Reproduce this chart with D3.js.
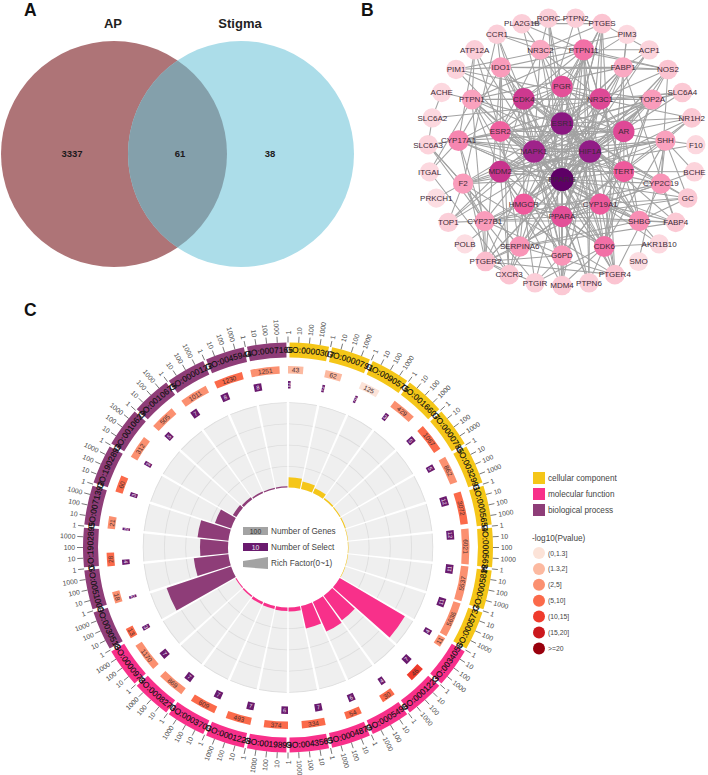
<!DOCTYPE html>
<html><head><meta charset="utf-8">
<script src="https://cdn.jsdelivr.net/npm/d3@7"></script>
<style>
html,body{margin:0;padding:0;background:#fff}
svg{display:block;font-family:"Liberation Sans",Arial,sans-serif}
</style></head><body>
<svg id="c" width="708" height="775"></svg>
<script>
// ---------- Panel A data
const vennSets = ["AP","Stigma"];
const vennCounts = [3337,61,38];

// ---------- Panel B data
const shell1 = ["ESR1","HIF1A","PPARG","MAPK1"];
const shell1Deg = [38,37,44,35];
const shell2 = ["PGR","NR3C1","AR","TERT","CYP19A1","PPARA","HMGCR","MDM2","ESR2","CDK4"];
const shell2Deg = [24,25,25,22,22,24,22,29,21,28];
const shell3 = ["PTPN11","FABP1","TOP2A","SHH","CYP2C19","SHBG","CDK6","G6PD","SERPINA6","CYP27B1","F2","CYP17A1","PTPN1","IDO1","NR3C2"];
const shell3Deg = [19,11,13,12,14,15,19,14,14,13,13,16,12,13,11];
const shell4 = ["RORC","PTPN2","PTGES","PIM3","ACP1","NOS2","SLC6A4","NR1H2","F10","BCHE","GC","FABP4","AKR1B10","SMO","PTGER4","PTPN6","MDM4","PTGIR","CXCR3","PTGER2","POLB","TOP1","PRKCH1","ITGAL","SLC6A3","SLC6A2","ACHE","PIM1","ATP12A","CCR1","PLA2G1B"];
const shell4Deg = [5,5,7,3,4,7,6,6,3,4,6,6,3,2,7,5,6,5,7,8,2,5,2,3,4,3,3,4,5,5,5];
const adjacency = [
 "PPARG ESR1 HIF1A MAPK1 PGR NR3C1 AR TERT CYP19A1 PPARA HMGCR MDM2 ESR2 CDK4 PTPN11 FABP1 TOP2A SHH CYP2C19 SHBG CDK6 G6PD SERPINA6 CYP27B1 F2 CYP17A1 PTPN1 IDO1 NR3C2 NOS2 NR1H2 GC FABP4 PTGES MDM4 PTGER2 PTGER4 CXCR3 ACP1",
 "ESR1 HIF1A MAPK1 PGR NR3C1 AR TERT CYP19A1 PPARA HMGCR MDM2 ESR2 CDK4 FABP1 TOP2A SHH CYP2C19 SHBG CDK6 G6PD SERPINA6 CYP27B1 F2 CYP17A1 PTPN1 IDO1 NR3C2 NR1H2 SLC6A4 SLC6A3 FABP4 GC PTPN11 RORC",
 "HIF1A MAPK1 PGR NR3C1 AR TERT CYP19A1 PPARA HMGCR MDM2 ESR2 CDK4 PTPN11 TOP2A SHH CYP2C19 SHBG CDK6 G6PD SERPINA6 F2 CYP17A1 PTPN1 IDO1 NOS2 PTGES MDM4 PTGER4 PTGER2 PTPN6 SLC6A4",
 "MAPK1 PGR NR3C1 AR TERT PPARA HMGCR MDM2 ESR2 CDK4 PTPN11 FABP1 TOP2A SHH CDK6 G6PD F2 CYP17A1 PTPN1 IDO1 NR3C2 MDM4 PTPN2 PTPN6 PIM1 PTGES TOP1 CCR1",
 "PGR NR3C1 AR ESR2 CDK4 CYP19A1 SHBG CYP17A1 NR3C2 TOP2A CDK6 PTPN11 RORC",
 "NR3C1 AR ESR2 CDK4 TERT NR3C2 SHBG PPARA SLC6A4 PTPN11 FABP1 PTGES NOS2 TOP2A",
 "AR ESR2 MDM2 CDK4 SHBG CYP19A1 CYP17A1 TERT CDK6 TOP2A NR1H2 NOS2 FABP1",
 "TERT CDK4 MDM2 TOP2A CDK6 SHH PTPN11 BCHE SERPINA6 ESR2 G6PD",
 "CYP19A1 ESR2 CYP17A1 CYP2C19 SHBG CYP27B1 HMGCR PTGER2 G6PD FABP4 AKR1B10 GC",
 "PPARA ESR2 FABP1 CYP2C19 HMGCR CDK6 NR1H2 FABP4 SERPINA6 CYP27B1 G6PD PTPN6 GC",
 "HMGCR CDK4 MDM2 CYP27B1 G6PD CDK6 FABP1 ACP1 SERPINA6 PTGIR CXCR3",
 "MDM2 CDK4 CDK6 MDM4 ESR2 TOP2A F2 CXCR3 PTPN1 G6PD TOP1 SHH",
 "ESR2 CDK4 SHBG CYP17A1 PTPN1 SERPINA6 IDO1 NR3C2 ATP12A",
 "CDK4 CDK6 TOP2A PTPN1 IDO1 PTPN11 G6PD PIM1 CCR1 PIM3",
 "PTPN11 PTPN1 PTPN2 PTPN6 ACP1 NOS2 IDO1 PTGER4 MDM4 PLA2G1B",
 "FABP1 NOS2 ACP1 IDO1 FABP4 PTPN1 PIM3",
 "TOP2A SLC6A4 TOP1 CDK6 PTPN1 NOS2 POLB",
 "SHH GC SMO CYP2C19 NR1H2 BCHE F10 CDK6",
 "CYP2C19 CYP17A1 FABP4 GC CYP27B1 BCHE NOS2 PTGER4",
 "SHBG GC FABP4 SERPINA6 CYP17A1 CYP27B1 AKR1B10",
 "CDK6 PTPN6 PTGER4 AKR1B10 PIM3 MDM4 PTGIR",
 "G6PD MDM4 PTGER2 CYP27B1 PTGIR PTPN1",
 "SERPINA6 F2 PTGER2 SLC6A3 PTGER4 CXCR3 FABP4",
 "CYP27B1 F2 CYP17A1 TOP1 PTGER2 SLC6A3 PTGIR",
 "F2 F10 PRKCH1 TOP1 CXCR3 PTGER4 CCR1 SLC6A3",
 "CYP17A1 PTGER2 ITGAL IDO1 ATP12A",
 "PTPN1 ACHE PTGER2 ATP12A ITGAL",
 "IDO1 CXCR3 NOS2 CCR1 PTGER2 PIM1",
 "NR3C2 PLA2G1B RORC CCR1 PTGES",
 "PTGES PTGER4 PTGIR PTGER2 PLA2G1B PTPN2 ACP1",
 "ACHE SLC6A2", "SLC6A2 SLC6A4 SLC6A3", "ITGAL CXCR3", "PTGER2 CXCR3 PTGIR PTGER4",
 "ATP12A PTGER4", "PIM1 PIM3", "NOS2 CCR1", "NR1H2 PIM1", "RORC MDM4", "PLA2G1B PTPN2 PTPN6"
];

// ---------- Panel C data
const goIds = ["GO:0000307","GO:0000791","GO:0090575","GO:0016607","GO:0000785","GO:0032991","GO:0005654","GO:0005634","GO:0005829","GO:0005737",
 "GO:0034056","GO:0001223","GO:0005496","GO:0004879","GO:0043565","GO:0019899","GO:0001228","GO:0003700","GO:0008270","GO:0000978",
 "GO:0030518","GO:0051000","GO:1902895","GO:0071392","GO:1902893","GO:0010629","GO:0010675","GO:0000122","GO:0045944","GO:0007165"];
const goCategory = ["cc","cc","cc","cc","cc","cc","cc","cc","cc","cc","mf","mf","mf","mf","mf","mf","mf","mf","mf","mf","bp","bp","bp","bp","bp","bp","bp","bp","bp","bp"];
const geneCounts = [43,62,125,429,1067,862,3072,6021,5537,5636,11,46,30,54,334,374,493,609,869,1170,13,18,28,21,60,312,505,1011,1230,1251];
const selectCounts = [2,2,2,3,5,5,12,12,11,11,4,7,4,6,7,6,7,7,7,7,3,2,4,2,3,3,5,7,8,8];
const richFactor = [.12,.09,.06,.018,.012,.012,.006,.006,.006,.006,.89,.36,.38,.27,.047,.041,.035,.03,.018,.012,.8,.41,.33,.365,.2,.047,.03,.018,.014,.014];
const pBin = [1,1,0,2,3,2,3,2,2,2,2,4,3,3,3,3,3,3,2,2,3,2,3,2,3,2,2,2,3,2];
const axisTicks = [1,10,100,1000];
const pLabels = ["(0,1.3]","(1.3,2]","(2,5]","(5,10]","(10,15]","(15,20]",">=20"];
const pColors = ["#fce3d8","#fcb9a0","#fb9070","#fb6a4a","#ef3b2c","#cb181d","#99000d"];
const catKeys = ["cc","mf","bp"];
const catNames = ["cellular component","molecular function","biological process"];
const catColors = ["#f5c618","#f8308a","#8e3d78"];

const svg = d3.select("#c");
const panelLabels = [["A",24,16],["B",361,16],["C",24,316]];
svg.selectAll("text.pl").data(panelLabels).join("text").attr("class","pl")
  .attr("x",d=>d[1]).attr("y",d=>d[2]).attr("font-size",17.5).attr("font-weight","bold").attr("fill","#111").text(d=>d[0]);

// ---------- Venn
(function(){
  const g = svg.append("g");
  const R = 113, y = 154, xL = 114, xR = 241;
  const defs = svg.append("defs");
  defs.append("clipPath").attr("id","lc").append("circle").attr("cx",xL).attr("cy",y).attr("r",R);
  g.append("circle").attr("cx",xL).attr("cy",y).attr("r",R).attr("fill","#ae7477");
  g.append("circle").attr("cx",xR).attr("cy",y).attr("r",R).attr("fill","#acdde9");
  g.append("circle").attr("cx",xR).attr("cy",y).attr("r",R).attr("fill","#84a0ab").attr("clip-path","url(#lc)");
  g.selectAll("text.t").data(vennSets).join("text").attr("class","t")
    .attr("x",(d,i)=>[113,240][i]).attr("y",27.5).attr("text-anchor","middle")
    .attr("font-size",13).attr("font-weight","bold").attr("fill","#222").text(d=>d);
  g.selectAll("text.n").data(vennCounts).join("text").attr("class","n")
    .attr("x",(d,i)=>[72,180,270][i]).attr("y",157).attr("text-anchor","middle")
    .attr("font-size",9.5).attr("font-weight","bold").attr("fill","#1d1a1c").text(d=>d);
})();

// ---------- Network
(function(){
  const cx = 562, cy = 151.5;
  const shells = [
    {names:shell1,deg:shell1Deg,r:28,off:0},
    {names:shell2,deg:shell2Deg,r:65,off:0},
    {names:shell3,deg:shell3Deg,r:104,off:12},
    {names:shell4,deg:shell4Deg,r:134,off:-360/31/2}
  ];
  const nodes = [], byName = {};
  shells.forEach(s=>{
    const ang = d3.scaleLinear().domain([0,s.names.length]).range([s.off,s.off+360]);
    s.names.forEach((n,i)=>{
      const a = ang(i)*Math.PI/180;
      const nd = {name:n,deg:s.deg[i],x:cx+s.r*Math.sin(a),y:cy-s.r*Math.cos(a)};
      nodes.push(nd); byName[n]=nd;
    });
  });
  const edges = [];
  adjacency.forEach(row=>{
    const t = row.split(" ");
    t.slice(1).forEach(o=>{ if(byName[t[0]]&&byName[o]) edges.push([byName[t[0]],byName[o]]); });
  });
  const col = d3.scaleLinear().domain([2,7,14,22,29,36,44])
    .range(["#fcdde2","#fbc4d1","#f995b7","#ee5a9c","#c8338d","#98208a","#5e0066"]);
  const rad = d3.scaleLinear().domain([2,44]).range([9.6,11.6]);
  const g = svg.append("g");
  g.selectAll("line").data(edges).join("line")
    .attr("x1",d=>d[0].x).attr("y1",d=>d[0].y).attr("x2",d=>d[1].x).attr("y2",d=>d[1].y)
    .attr("stroke","#a2a2a2").attr("stroke-width",1.05);
  g.selectAll("circle").data(nodes).join("circle")
    .attr("cx",d=>d.x).attr("cy",d=>d.y).attr("r",d=>rad(d.deg)).attr("fill",d=>col(d.deg));
  g.selectAll("text").data(nodes).join("text")
    .attr("x",d=>d.x).attr("y",d=>d.y+2.8).attr("text-anchor","middle")
    .attr("font-size",8).attr("fill","#3d2a36").text(d=>d.name);
})();

// ---------- Circular enrichment plot
(function(){
  const cx = 288, cy = 547.5;
  const g = svg.append("g").attr("transform",`translate(${cx},${cy})`);
  const rad = d=>d*Math.PI/180;
  const sector = d3.scaleBand().domain(goIds).range([0,360]);
  const step = sector.bandwidth();
  const logA = d3.scaleLog().domain([1,10000]).range([0,step]);
  const rich = d3.scaleLinear().domain([0,1]).range([60,145]);
  const catColor = d3.scaleOrdinal(catKeys,catColors);
  const rows = goIds.map((id,i)=>({id,i,a0:sector(id),cat:goCategory[i],gene:geneCounts[i],sel:selectCounts[i],rf:richFactor[i],bin:pBin[i]}));
  const arc = d3.arc();
  const polar = (r,a)=>[r*Math.sin(rad(a)),-r*Math.cos(rad(a))];
  const flip = a=>a>90.01&&a<265;

  // grey panels
  g.selectAll("path.panel").data(rows).join("path").attr("class","panel")
    .attr("d",d=>arc({innerRadius:60,outerRadius:145,startAngle:rad(d.a0+.5),endAngle:rad(d.a0+step-.5)}))
    .attr("fill","#efefef");
  [.25,.5,.75,1].forEach(v=>{
    g.selectAll("path.grid"+v*100).data(rows).join("path")
      .attr("d",d=>arc({innerRadius:rich(v)-.6,outerRadius:rich(v)+.3,startAngle:rad(d.a0+.5),endAngle:rad(d.a0+step-.5)}))
      .attr("fill","#dedede");
  });
  // bars
  g.selectAll("path.bar").data(rows).join("path").attr("class","bar")
    .attr("d",d=>arc({innerRadius:60,outerRadius:rich(d.rf),startAngle:rad(d.a0+.5),endAngle:rad(d.a0+step-.5)}))
    .attr("fill",d=>catColor(d.cat));
  // outer ring
  g.selectAll("path.ring").data(rows).join("path").attr("class","ring")
    .attr("d",d=>arc({innerRadius:190,outerRadius:205,startAngle:rad(d.a0+.45),endAngle:rad(d.a0+step-.45)}))
    .attr("fill",d=>catColor(d.cat));
  // gene ring
  g.selectAll("path.gene").data(rows).join("path").attr("class","gene")
    .attr("d",d=>arc({innerRadius:174,outerRadius:181.5,startAngle:rad(d.a0),endAngle:rad(d.a0+logA(d.gene))}))
    .attr("fill",d=>pColors[d.bin]);
  const midText = (cls,field,r,size,fill)=>{
    g.selectAll("text."+cls).data(rows).join("text").attr("class",cls)
      .attr("text-anchor","middle").attr("dominant-baseline","central")
      .attr("font-size",size).attr("fill",fill)
      .attr("transform",d=>{
        const a = d.a0+logA(d[field])/2, p = polar(r,a);
        return `translate(${p[0]},${p[1]}) rotate(${flip(a)?a+180:a})`;
      }).text(d=>d[field]);
  };
  midText("genet","gene",177.8,6.6,"#4a3030");
  // select ring
  g.selectAll("path.sel").data(rows).join("path").attr("class","sel")
    .attr("d",d=>arc({innerRadius:159,outerRadius:166.5,startAngle:rad(d.a0),endAngle:rad(d.a0+logA(d.sel))}))
    .attr("fill","#6a1a6e");
  midText("selt","sel",162.7,5.6,"#f3e6f3");
  // ticks
  const ticks = rows.flatMap(d=>axisTicks.map(v=>({v,a:d.a0+logA(v)})));
  g.selectAll("line.tick").data(ticks).join("line").attr("class","tick")
    .attr("x1",d=>polar(205,d.a)[0]).attr("y1",d=>polar(205,d.a)[1])
    .attr("x2",d=>polar(211,d.a)[0]).attr("y2",d=>polar(211,d.a)[1])
    .attr("stroke","#555").attr("stroke-width",.8);
  g.selectAll("text.tl").data(ticks).join("text").attr("class","tl")
    .attr("font-size",6.8).attr("fill","#4a4a4a").attr("dominant-baseline","central")
    .attr("text-anchor",d=>d.a<180?"start":"end")
    .attr("transform",d=>{
      const p = polar(213,d.a);
      return `translate(${p[0]},${p[1]}) rotate(${d.a<180?d.a-90:d.a+90})`;
    }).text(d=>d.v);
  // GO labels on arcs
  const defs = svg.append("defs");
  rows.forEach(d=>{
    const f = flip(d.a0+step/2);
    const p = d3.path();
    if(!f){
      p.arc(0,0,194.8,rad(d.a0-.7-90),rad(d.a0+40-90),false);
    } else {
      p.arc(0,0,200.3,rad(d.a0+step+.7-90),rad(d.a0+step-40-90),true);
    }
    defs.append("path").attr("id","gp"+d.i).attr("d",p.toString());
    g.append("text").attr("font-size",8.4).attr("fill","#111").attr("stroke","#111").attr("stroke-width",.15)
      .append("textPath").attr("href","#gp"+d.i).attr("startOffset",0).text(d.id);
  });
  // centre legend
  const lg = svg.append("g");
  lg.append("rect").attr("x",243).attr("y",527).attr("width",25).attr("height",8).attr("fill","#a3a3a3");
  lg.append("text").attr("x",255.5).attr("y",533.7).attr("text-anchor","middle").attr("font-size",6.8).attr("fill","#333").text(100);
  lg.append("rect").attr("x",243).attr("y",543).attr("width",25).attr("height",8).attr("fill","#6a1a6e");
  lg.append("text").attr("x",255.5).attr("y",549.7).attr("text-anchor","middle").attr("font-size",6.8).attr("fill","#eee").text(10);
  lg.append("path").attr("d",d3.line()([[243,561],[268,557],[268,569],[243,567]])+"Z").attr("fill","#a3a3a3");
  lg.selectAll("text.cl").data(["Number of Genes","Number of Select","Rich Factor(0~1)"]).join("text").attr("class","cl")
    .attr("x",271).attr("y",(d,i)=>[534,550,566][i]).attr("font-size",8.2).attr("fill","#444").text(d=>d);
  // right legend
  const lr = svg.append("g");
  lr.selectAll("rect").data(catColors).join("rect")
    .attr("x",533).attr("y",(d,i)=>472+i*16).attr("width",12).attr("height",12).attr("fill",d=>d);
  lr.selectAll("text.c").data(catNames).join("text").attr("class","c")
    .attr("x",548).attr("y",(d,i)=>481+i*16).attr("font-size",8.2).attr("fill","#444").text(d=>d);
  lr.append("text").attr("x",532).attr("y",541).attr("font-size",8.2).attr("fill","#444").text("-log10(Pvalue)");
  lr.selectAll("circle").data(pColors).join("circle")
    .attr("cx",539).attr("cy",(d,i)=>553+i*15.9).attr("r",6).attr("fill",d=>d);
  lr.selectAll("text.p").data(pLabels).join("text").attr("class","p")
    .attr("x",548).attr("y",(d,i)=>555.5+i*15.9).attr("font-size",6.8).attr("fill","#444").text(d=>d);
})();
</script>
</body></html>
